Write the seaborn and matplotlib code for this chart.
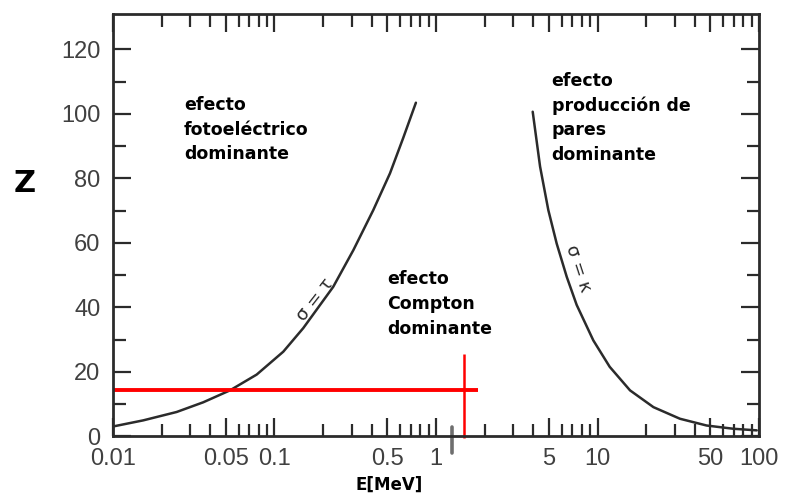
import numpy as np
import pandas as pd
import matplotlib
matplotlib.use("Agg")
import matplotlib.pyplot as plt
from matplotlib.ticker import FixedLocator, FixedFormatter, NullFormatter
import seaborn as sns

# Boundary where photoelectric and Compton cross sections are equal (sigma = tau)
tau_E = [0.0100, 0.0154, 0.0248, 0.0362, 0.053, 0.0776, 0.1134, 0.1507,
         0.231, 0.308, 0.409, 0.519, 0.627, 0.751]
tau_Z = [3.1, 5.0, 7.6, 10.6, 14.3, 19.2, 26.3, 33.6,
         46.4, 57.8, 70.2, 81.6, 92.6, 103.5]

# Boundary where Compton and pair production cross sections are equal (sigma = kappa)
kappa_E = [3.97, 4.41, 4.96, 5.59, 6.45, 7.43, 9.42, 11.9,
           15.9, 22.2, 32.4, 47.4, 69.3, 96.8]
kappa_Z = [100.7, 83.7, 70.2, 59.8, 49.5, 40.8, 29.8, 21.6,
           14.3, 9.1, 5.5, 3.4, 2.4, 1.9]

# Reference element line and energy marker
ref_Z = 14.4
ref_E_span = [0.01, 1.82]
ref_E = 1.5
ref_Z_span = [-0.6, 25.6]
axis_mark_E = 1.26
axis_mark_Z_span = [-5.2, 2.8]

x_tick_values = [0.01, 0.05, 0.1, 0.5, 1, 5, 10, 50, 100]
x_tick_labels = ["0.01", "0.05", "0.1", "0.5", "1", "5", "10", "50", "100"]
x_minor_values = [m * 10.0 ** k for k in range(-2, 2) for m in (2, 3, 4, 6, 7, 8, 9)]
y_tick_values = [0, 20, 40, 60, 80, 100, 120]
y_minor_values = [10, 30, 50, 70, 90, 110]

region_labels = [
    ("efecto\nfotoeléctrico\ndominante", 0.0275, 101.3),
    ("efecto\nCompton\ndominante", 0.497, 47.2),
    ("efecto\nproducción de\npares\ndominante", 5.20, 108.7),
]

tau_df = pd.DataFrame({"E": tau_E, "Z": tau_Z})
kappa_df = pd.DataFrame({"E": kappa_E, "Z": kappa_Z})

sns.set_theme(style="white")
plt.rcParams["font.family"] = ["DejaVu Sans"]

ink = "#2b2b2b"
fig = plt.figure(figsize=(7.85, 4.95), dpi=100)
ax = fig.add_axes([0.1439, 0.1182, 0.8230, 0.8535])

sns.lineplot(data=tau_df, x="E", y="Z", ax=ax, color=ink, lw=1.8,
             sort=False, estimator=None)
sns.lineplot(data=kappa_df, x="E", y="Z", ax=ax, color=ink, lw=1.8,
             sort=False, estimator=None)
for ln in ax.lines:
    ln.set_solid_joinstyle("round")

ax.set_xscale("log")
ax.set_xlim(0.01, 100)
ax.set_ylim(0, 131)

# red guide lines
ax.plot(ref_E_span, [ref_Z, ref_Z], color="#ff0000", lw=2.8, solid_capstyle="butt")
ax.plot([ref_E, ref_E], ref_Z_span, color="#ff0000", lw=1.8, clip_on=False,
        solid_capstyle="butt")
ax.plot([axis_mark_E, axis_mark_E], axis_mark_Z_span, color="#6e6e6e", lw=2.6,
        clip_on=False, solid_capstyle="round", zorder=1)

# axes styling
for sp in ax.spines.values():
    sp.set_visible(True)
    sp.set_color(ink)
    sp.set_linewidth(2.0)

ax.xaxis.set_major_locator(FixedLocator(x_tick_values))
ax.xaxis.set_major_formatter(FixedFormatter(x_tick_labels))
ax.xaxis.set_minor_locator(FixedLocator(x_minor_values))
ax.xaxis.set_minor_formatter(NullFormatter())
ax.yaxis.set_major_locator(FixedLocator(y_tick_values))
ax.yaxis.set_minor_locator(FixedLocator(y_minor_values))
ax.yaxis.set_minor_formatter(NullFormatter())

ax.tick_params(which="both", direction="in", top=True, right=True,
               bottom=True, left=True, color=ink, width=1.6)
ax.tick_params(which="major", length=13, labelsize=17, labelcolor="#404040")
ax.tick_params(which="minor", length=9)
ax.tick_params(axis="x", which="major", pad=8)
ax.tick_params(axis="y", which="major", pad=9)
for lab in ax.get_xticklabels() + ax.get_yticklabels():
    lab.set_family(["Liberation Sans", "DejaVu Sans"])

ax.set_xlabel("E[MeV]", fontsize=12, fontweight="bold", color="black",
              va="center")
ax.xaxis.set_label_coords(0.427, -0.115)
ax.set_ylabel("Z", fontsize=22, fontweight="bold", color="black", rotation=0,
              va="center", ha="center")
ax.yaxis.set_label_coords(-0.136, 0.60)

# region labels, one line at a time with a fixed baseline step
step_pt = 17.8
for text, e, z in region_labels:
    for i, line in enumerate(text.split("\n")):
        ax.annotate(line, xy=(e, z), xytext=(0, -i * step_pt),
                    textcoords="offset points", ha="left", va="baseline",
                    fontsize=12.5, fontweight="bold", color="black")

ax.text(0.178, 42.3, "σ = τ", rotation=52, rotation_mode="anchor",
        ha="center", va="center", fontsize=13, color=ink)
ax.text(7.57, 52.2, "σ = κ", rotation=-72, rotation_mode="anchor",
        ha="center", va="center", fontsize=13, color=ink)

fig.savefig("out.png", dpi=100)
